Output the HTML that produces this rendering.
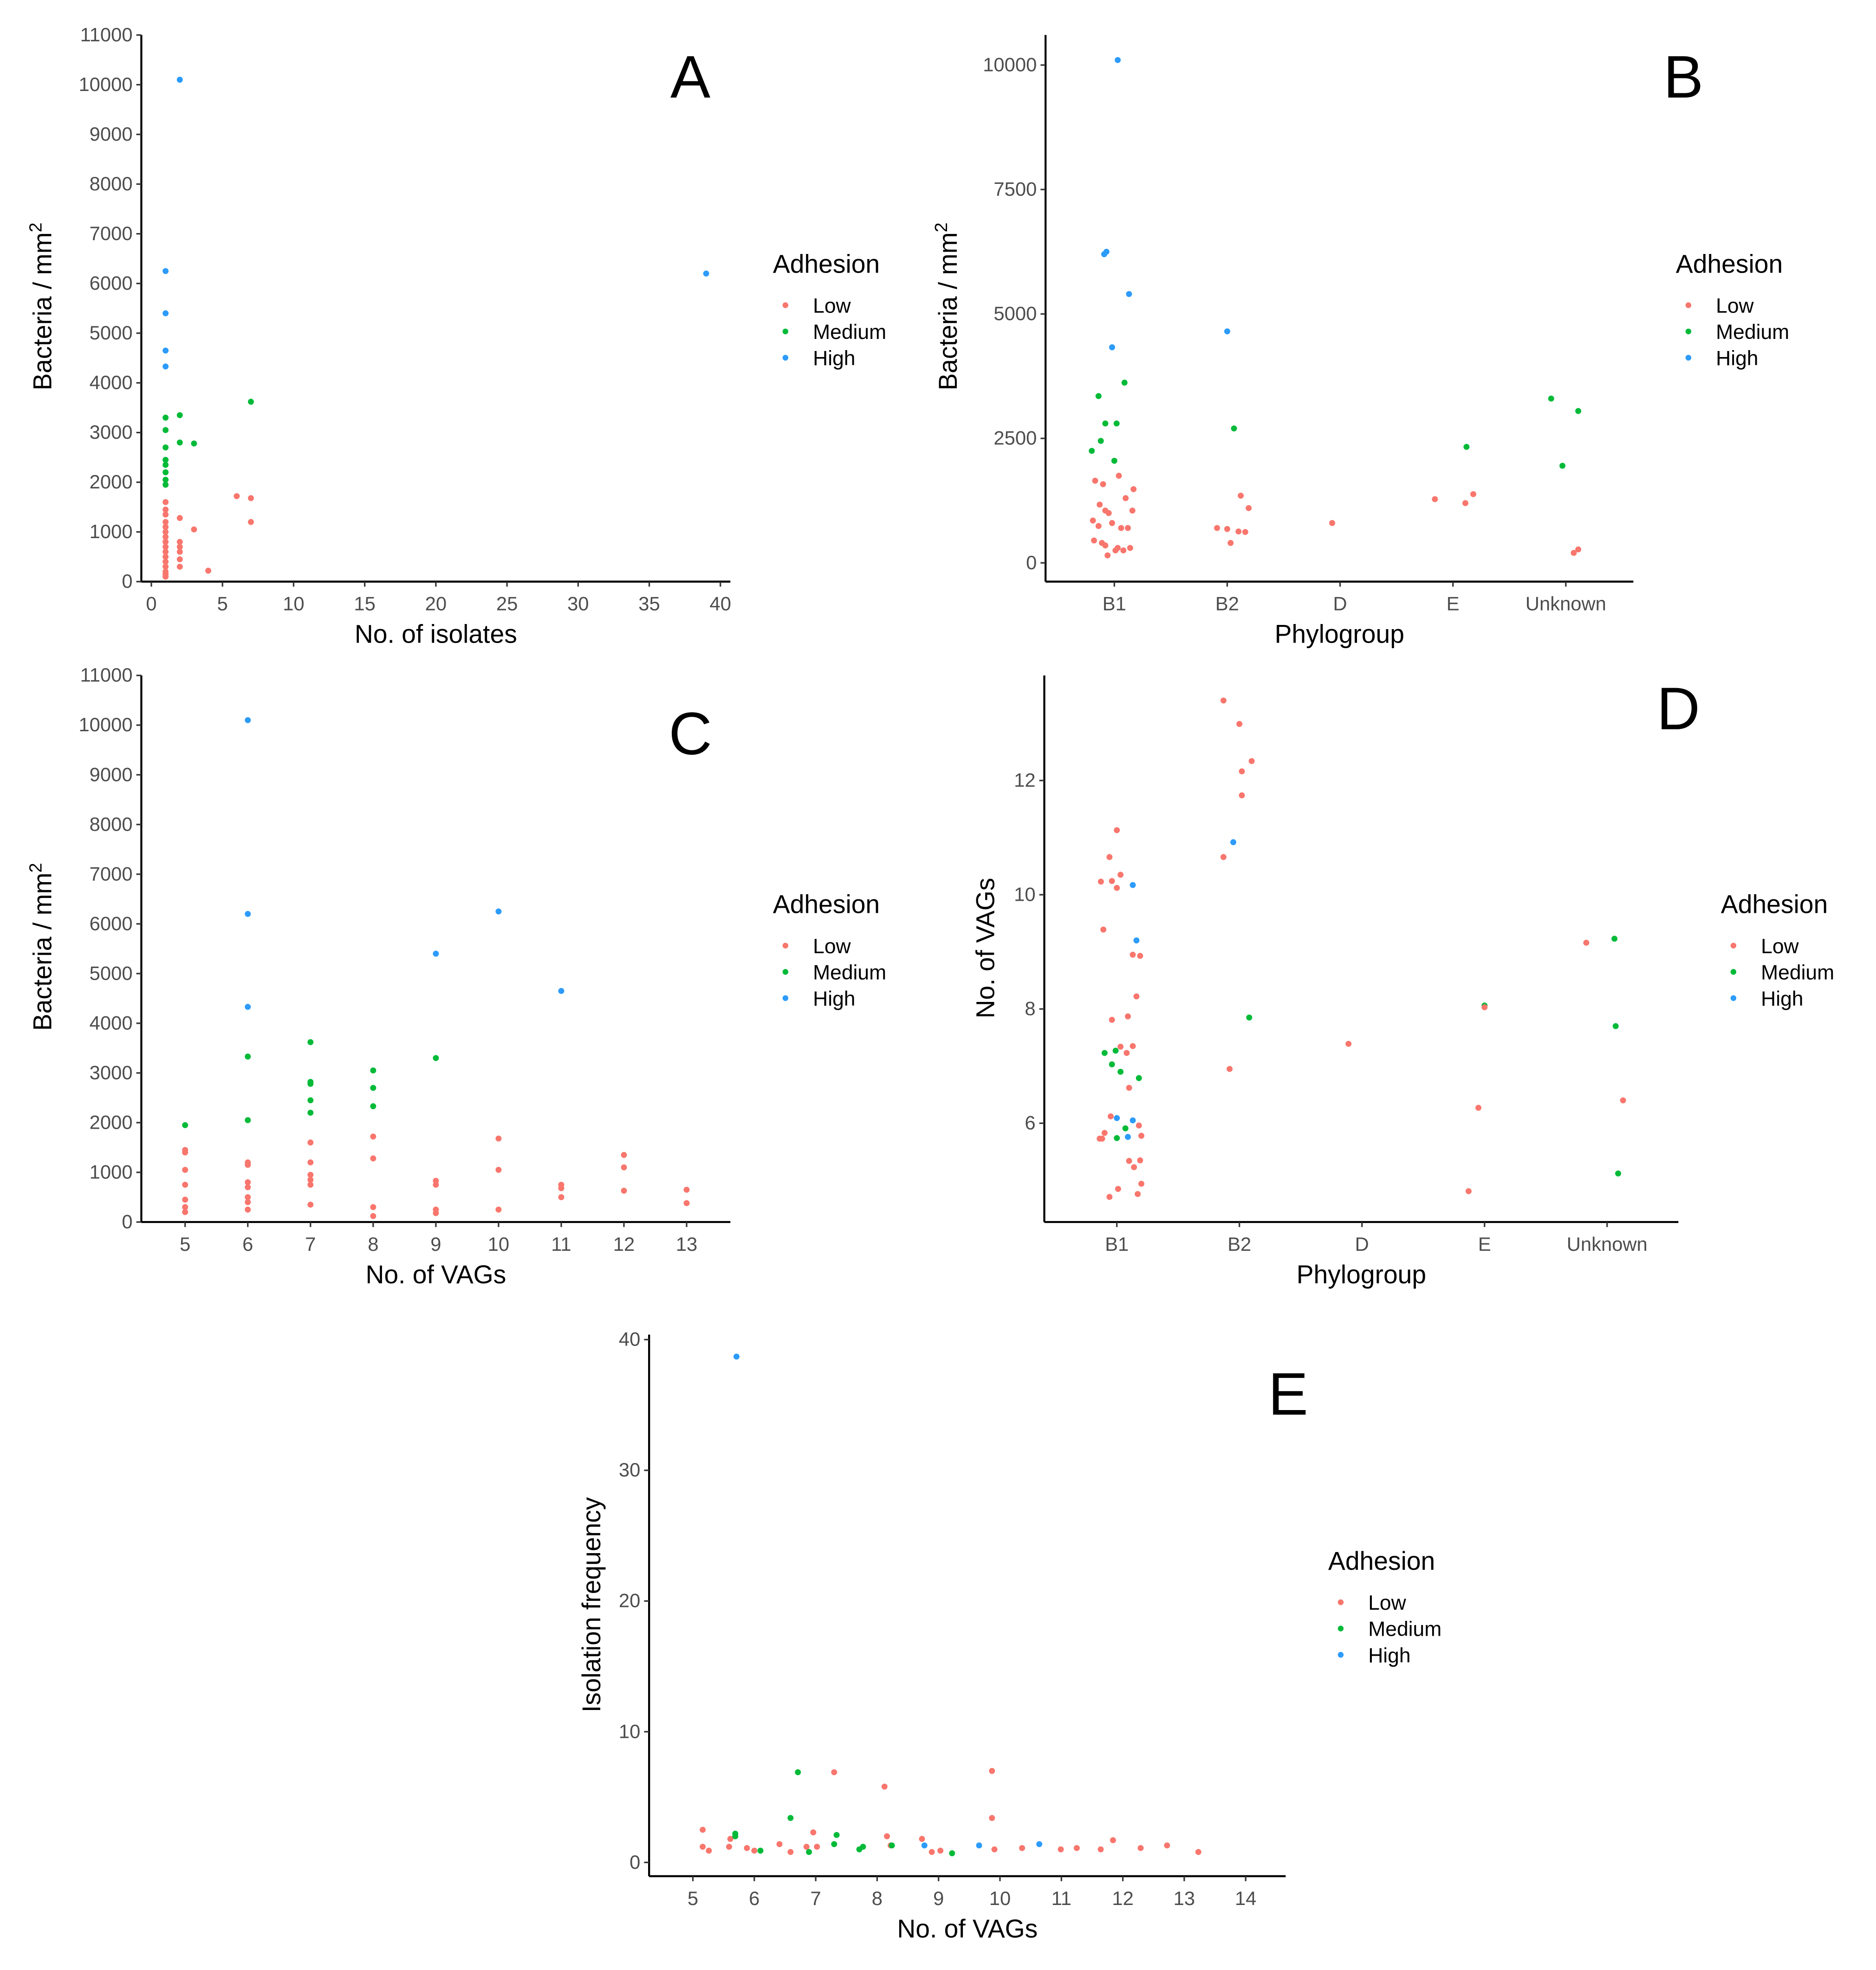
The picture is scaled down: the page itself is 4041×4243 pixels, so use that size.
<!DOCTYPE html>
<html><head><meta charset="utf-8"><style>
html,body{margin:0;padding:0;background:#fff}
svg{display:block;font-family:"Liberation Sans",sans-serif}
</style></head><body>
<svg id="fig" width="4041" height="4243" viewBox="0 0 1500 1575" xmlns="http://www.w3.org/2000/svg">
<rect width="1500" height="1575" fill="#fff"/>
</svg>
<script>
// ---- data ----
const levels = ["Low","Medium","High"];
const colors = ["#F8766D","#00BA38","#2C9BFA"];
// Panel A: [isolates, bacteria, level]
const aX = [1,1,1,1, 1,1,1,1,1,1,1,1, 1,1,1,1,1,1,1,1,1,1,1,1,1,1,1,1, 2,2,2,2,2,2,2,2,2, 3,3, 4, 6, 7,7,7, 39];
const aY = [6250,5400,4650,4330, 3300,3050,2700,2450,2350,2200,2050,1950, 1600,1450,1350,1200,1100,1000,900,800,700,600,500,400,300,200,150,100, 10100,3350,2800,1280,800,700,600,450,300, 2780,1050, 220, 1720, 3620,1680,1200, 6200];
const aL = [2,2,2,2, 1,1,1,1,1,1,1,1, 0,0,0,0,0,0,0,0,0,0,0,0,0,0,0,0, 2,1,1,0,0,0,0,0,0, 1,0, 0, 0, 1,0,0, 2];
// Panel B: category index, jitter (category units), bacteria, level
const phyloCats = ["B1","B2","D","E","Unknown"];
const bC = [0,0,0,0,0, 0,0,0,0,0,0,0, 0,0,0,0,0,0,0,0,0,0,0,0,0,0,0,0,0,0,0,0,0,0, 1,1, 1,1,1,1,1,1,1, 2, 3,3,3,3, 4,4,4,4,4];
const bJ = [-0.09,-0.07,0.13,-0.02,0.03, -0.14,0.09,-0.08,0.02,-0.12,0,-0.2, -0.17,-0.1,0.04,0.17,-0.13,-0.08,0.1,-0.19,-0.05,0.16,-0.14,0.06,-0.02,0.12,-0.18,-0.11,0.03,0.01,-0.06,-0.08,0.08,0.14, 0,0.06, -0.09,0,0.1,0.16,0.12,0.19,0.03, -0.07, 0.12,-0.16,0.11,0.18, -0.13,0.11,-0.03,0.07,0.11];
const bY = [6200,6250,5400,4330,10100, 3350,3620,2800,2800,2450,2050,2250, 1650,1580,1750,1480,1170,1050,1300,850,1000,1050,740,700,800,700,450,400,300,250,150,350,250,300, 4650,2700, 700,680,630,620,1350,1100,400, 800, 2330,1280,1200,1380, 3300,3050,1950,200,270];
const bL = [2,2,2,2,2, 1,1,1,1,1,1,1, 0,0,0,0,0,0,0,0,0,0,0,0,0,0,0,0,0,0,0,0,0,0, 2,1, 0,0,0,0,0,0,0, 0, 1,0,0,0, 1,1,1,0,0];
// Panel C: VAGs, bacteria, level
const cX = [5,5,5,5,5,5,5,5, 6,6,6,6,6,6,6,6,6,6,6,6, 7,7,7,7,7,7,7,7,7,7,7, 8,8,8,8,8,8,8, 9,9,9,9,9,9, 10,10,10,10, 11,11,11,11, 12,12,12, 13,13];
const cY = [1950,1450,1400,1050,750,450,300,200, 10100,6200,4330,3330,2050,1200,1150,800,700,500,400,250, 3620,2820,2780,2450,2200,1600,1200,950,850,750,350, 3050,2700,2330,1720,1280,300,120, 5400,3300,830,750,250,180, 6250,1680,1050,250, 4650,750,680,500, 1350,1100,630, 650,380];
const cL = [1,0,0,0,0,0,0,0, 2,2,2,1,1,0,0,0,0,0,0,0, 1,1,1,1,1,0,0,0,0,0,0, 1,1,1,0,0,0,0, 2,1,0,0,0,0, 2,0,0,0, 2,0,0,0, 0,0,0, 0,0];
// Panel D: category index, jitter, VAGs, level
const dC = [1,1,1,1,1,1,1,1,1,
 0,0,0,0,0,0,0,0,0,0, 0,0,0,0,0,0,0,0,0,0, 0,0,0,0,0,0,0,0,0,0, 0,0,0,0,0,0,0,0,0,0, 0,
 2, 3,3,3,3, 4,4,4,4,4];
const dJ = [-0.13,0,0.10,0.02,0.02,-0.05,-0.13,0.08,-0.08,
 0,-0.06,0.03,-0.13,-0.04,0,0.13,-0.11,0.16,0.13, 0.19,0.16,0.09,-0.04,0.03,0.13,0.08,-0.1,-0.01,-0.04, 0.03,0.18,0.1,-0.05,0,0.13,0.18,0.07,-0.1,-0.14, -0.12,0,0.09,0.2,0.1,0.19,0.14,0.2,0.01,-0.06, 0.17,
 -0.11, 0,0,-0.05,-0.13, -0.17,0.06,0.07,0.13,0.09];
const dY = [13.40,12.99,12.34,12.16,11.74,10.92,10.66,7.85,6.95,
 11.13,10.66,10.35,10.23,10.24,10.12,10.17,9.39,9.20,8.95, 8.93,8.22,7.87,7.81,7.34,7.35,7.23,7.23,7.27,7.03, 6.90,6.79,6.62,6.12,6.09,6.05,5.96,5.91,5.83,5.73, 5.73,5.74,5.76,5.78,5.34,5.35,5.23,4.94,4.85,4.71, 4.76,
 7.39, 8.06,8.03,6.27,4.81, 9.16,9.23,7.70,6.40,5.12];
const dL = [0,0,0,0,0,2,0,1,0,
 0,0,0,0,0,0,2,0,2,0, 0,0,0,0,0,0,0,1,1,1, 1,1,0,0,2,2,0,1,0,0, 0,1,2,0,0,0,0,0,0,0, 0,
 0, 1,0,0,0, 0,1,1,0,1];
// Panel E: VAGs (jittered), isolation frequency, level
const eX = [5.16,5.16,5.26,5.59,5.61,5.88,6.00,6.41,6.59,6.85,6.96,7.02,7.30,8.12,8.16,8.22,8.73,8.89,9.03,9.87,9.87,9.91,10.36,10.99,11.25,11.64,11.84,12.29,12.72,13.23, 5.69,5.69,6.10,6.59,6.71,6.89,7.30,7.34,7.71,7.77,8.24,9.22, 5.71,8.77,9.66,10.64];
const eY = [2.5,1.2,0.9,1.2,1.8,1.1,0.9,1.4,0.8,1.2,2.3,1.2,6.9,5.8,2.0,1.3,1.8,0.8,0.9,7.0,3.4,1.0,1.1,1.0,1.1,1.0,1.7,1.1,1.3,0.8, 2.2,2.0,0.9,3.4,6.9,0.8,1.4,2.1,1.0,1.2,1.3,0.7, 38.7,1.3,1.3,1.4];
const eL = [0,0,0,0,0,0,0,0,0,0,0,0,0,0,0,0,0,0,0,0,0,0,0,0,0,0,0,0,0,0, 1,1,1,1,1,1,1,1,1,1,1,1, 2,2,2,2];
const ticksA = [0,1000,2000,3000,4000,5000,6000,7000,8000,9000,10000,11000];
const ticksAx = [0,5,10,15,20,25,30,35,40];
const ticksB = [0,2500,5000,7500,10000];
const ticksC = [5,6,7,8,9,10,11,12,13];
const ticksD = [6,8,10,12];
const ticksEy = [0,10,20,30,40];
const ticksEx = [5,6,7,8,9,10,11,12,13,14];

const NS="http://www.w3.org/2000/svg";
const svg=document.getElementById('fig');
function el(tag,attrs,parent,text){const e=document.createElementNS(NS,tag);for(const k in attrs)e.setAttribute(k,attrs[k]);if(text!==undefined)e.textContent=text;(parent||svg).appendChild(e);return e;}
function lin(d0,d1,r0,r1){return v=>r0+(v-d0)/(d1-d0)*(r1-r0);}

function panel(p){
  const g=el('g',{});
  
  
  const ya=el('line',{x1:p.ax,y1:p.top,x2:p.ax,y2:p.bot,stroke:'#000','stroke-width':1.6},g);
  
  const xa=el('line',{x1:p.ax,y1:p.bot,x2:p.right,y2:p.bot,stroke:'#000','stroke-width':1.6},g);
  
  p.yt.forEach(v=>{const y=p.ys(v);
    el('line',{x1:p.ax-4,y1:y,x2:p.ax,y2:y,stroke:'#333','stroke-width':1.2},g);
    const t=el('text',{x:p.ax-7,y:y+5,'text-anchor':'end','font-size':15.5,fill:'#4d4d4d'},g,String(v));
    });
  p.xt.forEach((v,i)=>{const x=p.xs(v);
    el('line',{x1:x,y1:p.bot,x2:x,y2:p.bot+4,stroke:'#333','stroke-width':1.2},g);
    const t=el('text',{x:x,y:p.bot+23,'text-anchor':'middle','font-size':15.5,fill:'#4d4d4d'},g,p.xl?p.xl[i]:String(v));
    });
  const xt=el('text',{x:(p.ax+p.right)/2,y:p.bot+49,'text-anchor':'middle','font-size':20.5,fill:'#000'},g,p.xtitle);
  
  const yt=el('text',{x:0,y:0,'text-anchor':'middle','font-size':20.5,fill:'#000',transform:`translate(${p.ytx},${p.yty}) rotate(-90)`},g,p.ytitle);
  
  if(p.sup){el('tspan',{'baseline-shift':'super','font-size':14},yt,'2');}
  const lt=el('text',{x:p.lx,y:p.ly,'text-anchor':'middle','font-size':48,fill:'#000'},g,p.id);
  
  const lg=el('g',{},g);
  
  el('text',{x:p.lgx,y:p.lgy,'font-size':20.5,fill:'#000'},lg,'Adhesion');
  levels.forEach((n,i)=>{const y=p.lgy+31+21*i;
    el('circle',{cx:p.lgx+10,cy:y-5,r:2.3,fill:colors[i]},lg);
    const t=el('text',{x:p.lgx+32,y:y+1,'font-size':16.5,fill:'#000'},lg,n);
    });
  for(let i=0;i<p.n;i++){
    const c=el('circle',{cx:p.px(i),cy:p.py(i),r:2.4,fill:colors[p.lv[i]]},g);
    
    
  }
}
{const xs=lin(0,40,121,576),ys=lin(0,11000,465,28);
panel({id:'A',ax:113,top:28,bot:465,right:584,xs,ys,yt:ticksA,xt:ticksAx,xtitle:'No. of isolates',ytitle:'Bacteria / mm',sup:true,ytx:41,yty:245,lx:552,ly:78,lgx:618,lgy:218,n:aX.length,px:i=>xs(aX[i]),py:i=>ys(aY[i]),lv:aL});}
{const cs=lin(0,4,891,1252),ys=lin(0,10000,450,52);
panel({id:'B',ax:836,top:28,bot:465,right:1306,xs:cs,ys,yt:ticksB,xt:[0,1,2,3,4],xl:phyloCats,xtitle:'Phylogroup',ytitle:'Bacteria / mm',sup:true,ytx:765,yty:245,lx:1346,ly:78,lgx:1340,lgy:218,n:bC.length,px:i=>cs(bC[i]+bJ[i]),py:i=>ys(bY[i]),lv:bL});}
{const xs=lin(5,13,148,549),ys=lin(0,11000,977,540);
panel({id:'C',ax:113,top:540,bot:977,right:584,xs,ys,yt:ticksA,xt:ticksC,xtitle:'No. of VAGs',ytitle:'Bacteria / mm',sup:true,ytx:41,yty:757,lx:552,ly:603,lgx:618,lgy:730,n:cX.length,px:i=>xs(cX[i]),py:i=>ys(cY[i]),lv:cL});}
{const cs=lin(0,4,893,1285),ys=lin(6,12,898,624);
panel({id:'D',ax:835,top:540,bot:977,right:1342,xs:cs,ys,yt:ticksD,xt:[0,1,2,3,4],xl:phyloCats,xtitle:'Phylogroup',ytitle:'No. of VAGs',sup:false,ytx:795,yty:758,lx:1342,ly:583,lgx:1376,lgy:730,n:dC.length,px:i=>cs(dC[i]+dJ[i]),py:i=>ys(dY[i]),lv:dL});}
{const xs=lin(5,14,554,996),ys=lin(0,40,1489,1071);
panel({id:'E',ax:519,top:1067,bot:1500,right:1028,xs,ys,yt:ticksEy,xt:ticksEx,xtitle:'No. of VAGs',ytitle:'Isolation frequency',sup:false,ytx:480,yty:1283,lx:1030,ly:1131,lgx:1062,lgy:1255,n:eX.length,px:i=>xs(eX[i]),py:i=>ys(eY[i]),lv:eL});}
</script>
</body></html>
